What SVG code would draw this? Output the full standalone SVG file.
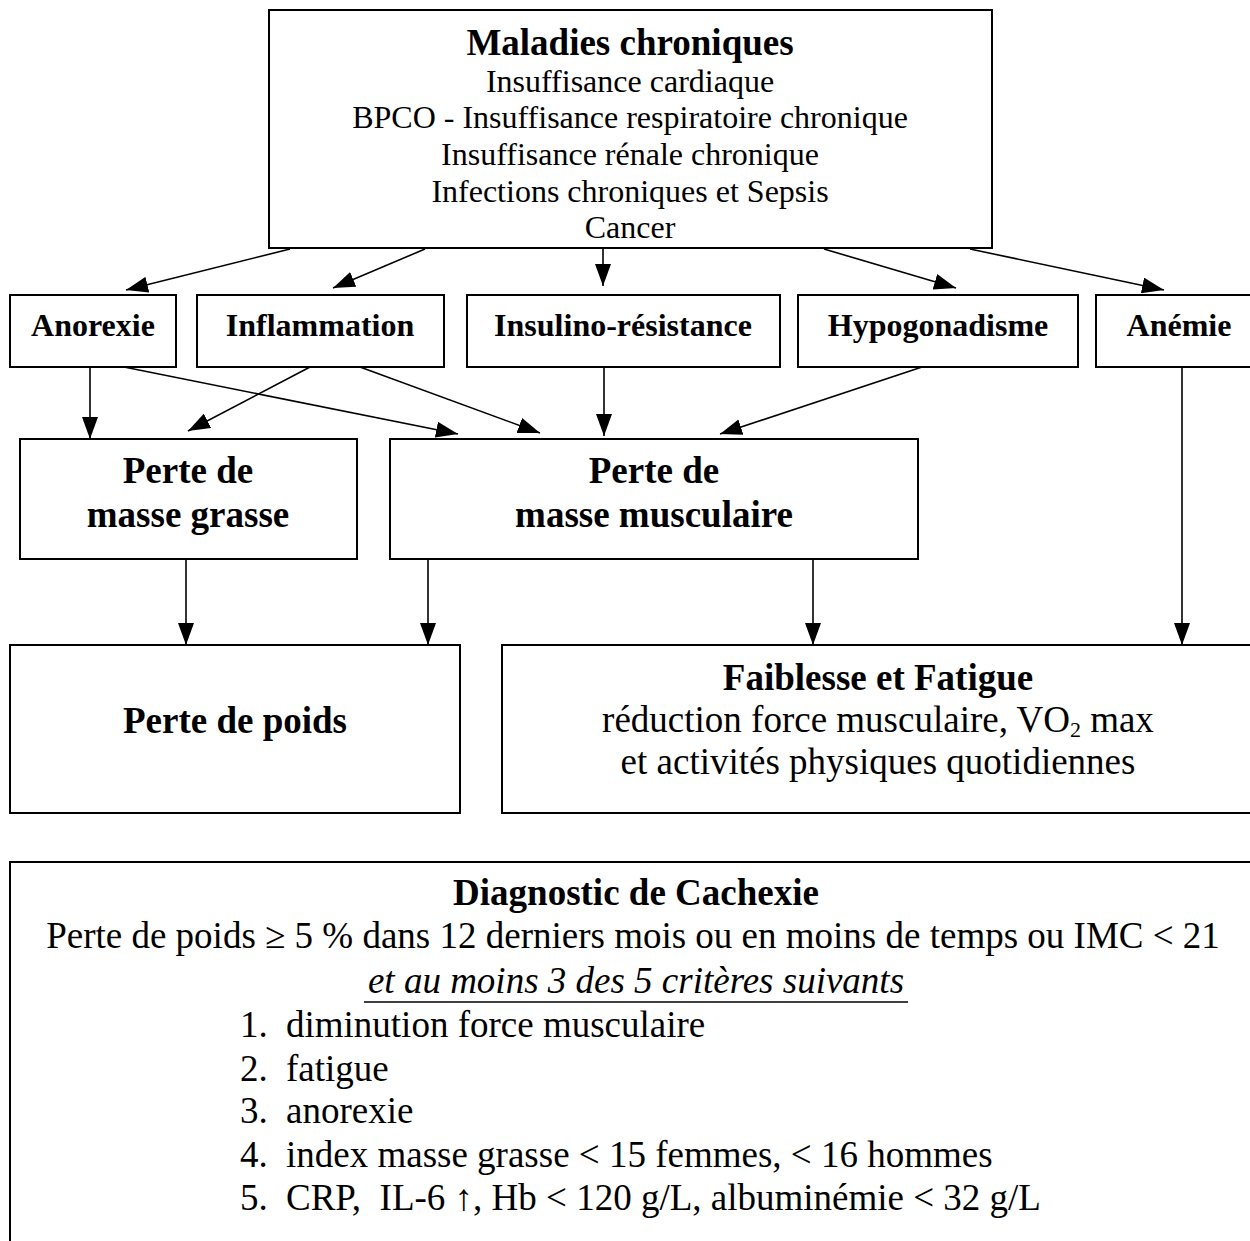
<svg xmlns="http://www.w3.org/2000/svg" width="1250" height="1241" viewBox="0 0 1250 1241">
<style>
.box{fill:#fff;stroke:#000;stroke-width:2}
text{font-family:"Liberation Serif","Times New Roman",serif;fill:#000}
.r{font-size:32px}
.rl{font-size:37px}
.b{font-size:37px;font-weight:bold}
.bs{font-size:32px;font-weight:bold}
.c{text-anchor:middle}
.ln{stroke:#000;stroke-width:1.6;fill:none;marker-end:url(#ah)}
</style>
<defs>
<marker id="ah" viewBox="0 0 22 16" refX="22" refY="8" markerWidth="22" markerHeight="16" markerUnits="userSpaceOnUse" orient="auto">
<path d="M0,0 L22,8 L0,16 z" fill="#000"/>
</marker>
</defs>
<rect width="1250" height="1241" fill="#fff"/>
<g id="connectors">
<line class="ln" x1="290" y1="249" x2="126" y2="290"/>
<line class="ln" x1="425" y1="249" x2="333" y2="288"/>
<line class="ln" x1="603" y1="249" x2="603" y2="286"/>
<line class="ln" x1="824" y1="249" x2="956" y2="288"/>
<line class="ln" x1="970" y1="249" x2="1164" y2="290"/>
<line class="ln" x1="90" y1="367" x2="90" y2="439"/>
<line class="ln" x1="124" y1="367" x2="458" y2="434"/>
<line class="ln" x1="310" y1="367" x2="188" y2="431"/>
<line class="ln" x1="360" y1="367" x2="540" y2="433"/>
<line class="ln" x1="604" y1="367" x2="604" y2="436"/>
<line class="ln" x1="922" y1="367" x2="720" y2="434"/>
<line class="ln" x1="1182" y1="367" x2="1182" y2="645"/>
<line class="ln" x1="186" y1="559" x2="186" y2="645"/>
<line class="ln" x1="428" y1="559" x2="428" y2="645"/>
<line class="ln" x1="813" y1="559" x2="813" y2="645"/>
</g>
<g id="maladies">
<rect class="box" x="269" y="10" width="723" height="238"/>
<text class="b c" x="630" y="55">Maladies chroniques</text>
<text class="r c" x="630" y="92">Insuffisance cardiaque</text>
<text class="r c" x="630" y="128">BPCO - Insuffisance respiratoire chronique</text>
<text class="r c" x="630" y="165">Insuffisance rénale chronique</text>
<text class="r c" x="630" y="202">Infections chroniques et Sepsis</text>
<text class="r c" x="630" y="238">Cancer</text>
</g>
<g id="anorexie">
<rect class="box" x="10" y="295" width="166" height="72"/>
<text class="bs c" x="93" y="336">Anorexie</text>
</g>
<g id="inflammation">
<rect class="box" x="197" y="295" width="247" height="72"/>
<text class="bs c" x="320" y="336">Inflammation</text>
</g>
<g id="insulino">
<rect class="box" x="467" y="295" width="313" height="72"/>
<text class="bs c" x="623" y="336">Insulino-résistance</text>
</g>
<g id="hypogonadisme">
<rect class="box" x="798" y="295" width="280" height="72"/>
<text class="bs c" x="938" y="336">Hypogonadisme</text>
</g>
<g id="anemie">
<rect class="box" x="1096" y="295" width="166" height="72"/>
<text class="bs c" x="1179" y="336">Anémie</text>
</g>
<g id="masse-grasse">
<rect class="box" x="20" y="439" width="337" height="120"/>
<text class="b c" x="188" y="483">Perte de</text>
<text class="b c" x="188" y="527">masse grasse</text>
</g>
<g id="masse-musculaire">
<rect class="box" x="390" y="439" width="528" height="120"/>
<text class="b c" x="654" y="483">Perte de</text>
<text class="b c" x="654" y="527">masse musculaire</text>
</g>
<g id="perte-poids">
<rect class="box" x="10" y="645" width="450" height="168"/>
<text class="b c" x="235" y="733">Perte de poids</text>
</g>
<g id="faiblesse">
<rect class="box" x="502" y="645" width="760" height="168"/>
<text class="b c" x="878" y="690">Faiblesse et Fatigue</text>
<text class="rl c" x="878" y="732">réduction force musculaire, VO<tspan font-size="22" dy="5">2</tspan><tspan dy="-5"> max</tspan></text>
<text class="rl c" x="878" y="774">et activités physiques quotidiennes</text>
</g>
<g id="diagnostic">
<path d="M10,1245 L10,862 L1262,862" fill="none" stroke="#000" stroke-width="2"/>
<text class="b c" x="636" y="905">Diagnostic de Cachexie</text>
<text class="rl c" x="633" y="948">Perte de poids ≥ 5 % dans 12 derniers mois ou en moins de temps ou IMC &lt; 21</text>
<text class="rl c" x="636" y="993" font-style="italic">et au moins 3 des 5 critères suivants</text>
<line x1="364" y1="1002" x2="908" y2="1002" stroke="#000" stroke-width="1.5"/>
<text class="rl" x="240" y="1037">1.</text><text class="rl" x="286" y="1037">diminution force musculaire</text>
<text class="rl" x="240" y="1081">2.</text><text class="rl" x="286" y="1081">fatigue</text>
<text class="rl" x="240" y="1123">3.</text><text class="rl" x="286" y="1123">anorexie</text>
<text class="rl" x="240" y="1167">4.</text><text class="rl" x="286" y="1167">index masse grasse &lt; 15 femmes, &lt; 16 hommes</text>
<text class="rl" x="240" y="1210">5.</text><text class="rl" x="286" y="1210" xml:space="preserve">CRP,  IL-6 ↑, Hb &lt; 120 g/L, albuminémie &lt; 32 g/L</text>
</g>
</svg>
